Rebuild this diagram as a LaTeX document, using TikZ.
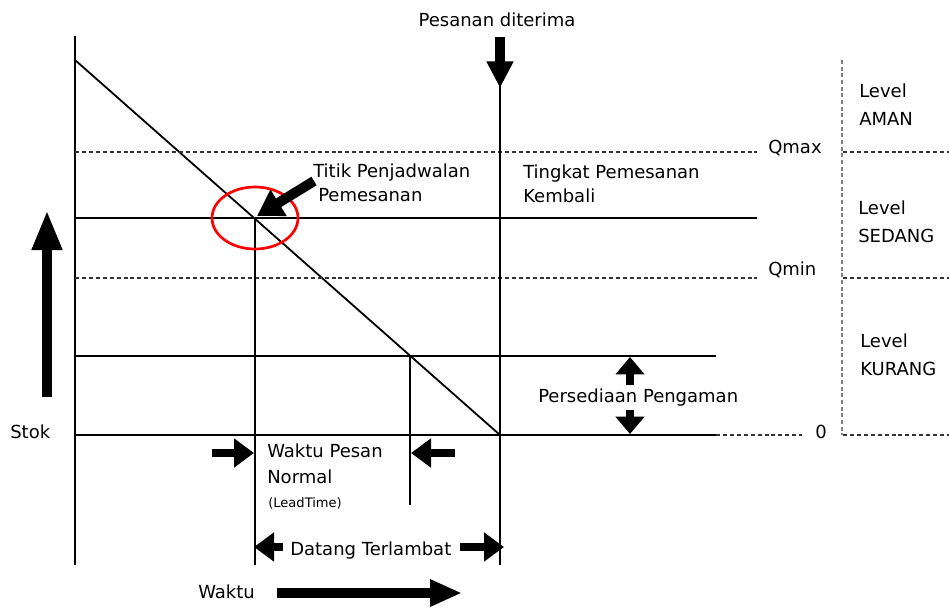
\documentclass[tikz,border=0pt]{standalone}
\usepackage{fontspec}
\setmainfont{DejaVu Sans}
\usetikzlibrary{arrows.meta}
\tikzset{
garis/.style={line width=1.35pt}, % garis utama grafik
putus/.style={line width=0.8pt, dash pattern=on 3pt off 2.2pt, black!80}, % batas Qmax / Qmin
titik/.style={line width=0.9pt, dash pattern=on 3pt off 2pt, gray}, % pembatas level
panah/.style={line width=6pt, -{Triangle[length=15pt,width=21pt]}}, % panah tebal biasa
panahbesar/.style={line width=7.5pt, -{Triangle[length=30pt,width=21pt]}}, % panah sumbu stok
lingkaran/.style={red, line width=2pt}, % penanda titik pesan
teks/.style={anchor=base west, inner sep=0pt, font=\fontsize{13.5}{15}\selectfont},
kecil/.style={teks, font=\fontsize{9.8}{11}\selectfont},
}

\begin{document}
\begin{tikzpicture}[x=0.75pt, y=-0.75pt]
        \useasboundingbox (0,0) rectangle (949,608);

        % titik-titik penting
        \coordinate (atas) at (75,36);
        \coordinate (bawah) at (75,565);
        \coordinate (awal) at (75,60);
        \coordinate (habis) at (500,435);
        \coordinate (jadwal) at (255,218);
        \coordinate (aman) at (410,356);

        % sumbu dan garis persediaan
        \draw[garis] (atas) -- (bawah);
        \draw[garis] (awal) -- (habis);
        \draw[putus] (75,152) -- (757,152);
        \draw[putus] (843,152) -- (949,152);
        \draw[garis] (75,218) -- (757,218);
        \draw[putus] (75,278) -- (757,278);
        \draw[putus] (843,278) -- (949,278);
        \draw[garis] (75,356) -- (716,356);
        \draw[garis] (75,435) -- (716,435);
        \draw[putus] (716,435) -- (802,435);
        \draw[putus] (843,435) -- (949,435);
        \draw[titik] (842,60) -- (842,435);

        % garis waktu
        \draw[garis] (500,80) -- (500,565);
        \draw[garis] (jadwal) -- (255,565);
        \draw[garis] (aman) -- (410,505);

        \draw[lingkaran] (jadwal) ellipse [x radius=43, y radius=31];

        % panah
        \draw[line width=7.5pt, -{Triangle[length=20pt,width=19pt]}] (500,37) -- (500,88);
        \draw[line width=7.5pt, -{Triangle[length=19pt,width=22pt]}] (314,181) -- (257,216);
        \draw[panahbesar] (47,397) -- (47,210);
        \draw[panah] (212,453) -- (254,453);
        \draw[panah] (455,453) -- (411,453);
        \draw[panah] (283,547) -- (254,547);
        \draw[panah] (460,547) -- (504,547);
        \draw[line width=6pt, -{Triangle[length=13pt,width=21pt]}] (630,385) -- (630,357);
        \draw[line width=6pt, -{Triangle[length=13pt,width=21pt]}] (630,410) -- (630,434);
        \draw[line width=7.5pt, -{Triangle[length=24pt,width=19pt]}] (277,593) -- (462,593);

        % label
        \node[teks, anchor=base] (pesanan) at (497,26) {Pesanan diterima};
        \node[teks] (titik1) at (313,177) {Titik Penjadwalan};
        \node[teks] (titik2) at (318,201) {Pemesanan};
        \node[teks] (tingkat1) at (523,178) {Tingkat Pemesanan};
        \node[teks] (tingkat2) at (523,202) {Kembali};
        \node[teks] (qmax) at (768,153) {Qmax};
        \node[teks] (qmin) at (768,275) {Qmin};
        \node[teks] (nol) at (815,438) {0};
        \node[teks] (amanA) at (859,97) {Level};
        \node[teks] (amanB) at (859,125) {AMAN};
        \node[teks] (sedangA) at (858,214) {Level};
        \node[teks] (sedangB) at (858,242) {SEDANG};
        \node[teks] (kurangA) at (860,347) {Level};
        \node[teks] (kurangB) at (860,375) {KURANG};
        \node[teks] (pengaman) at (538,402) {Persediaan Pengaman};
        \node[teks] (pesan1) at (267,457) {Waktu Pesan};
        \node[teks] (pesan2) at (267,483) {Normal};
        \node[kecil] (lead) at (268,507) {(LeadTime)};
        \node[teks] (datang) at (290,555) {Datang Terlambat};
        \node[teks] (stok) at (10,438) {Stok};
        \node[teks] (waktu) at (198,598) {Waktu};

    \end{tikzpicture}
\end{document}
